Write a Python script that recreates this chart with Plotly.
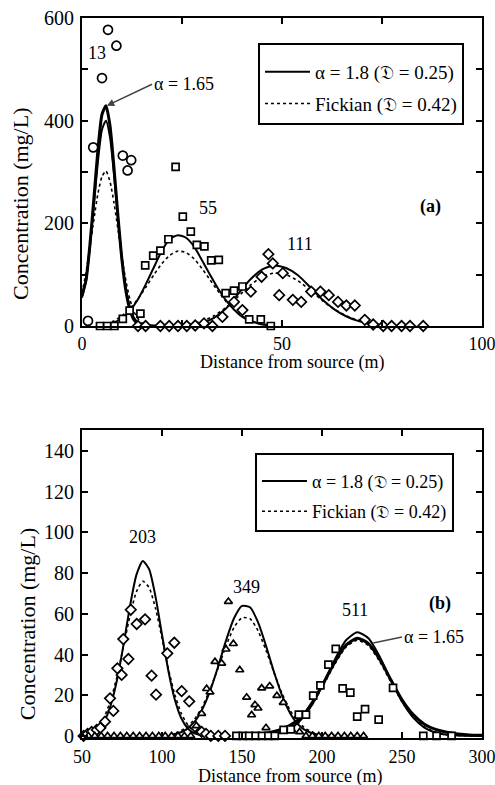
import plotly.graph_objects as go

# ---------------- Panel (a) data ----------------
a_circ_x = [1.5, 2.8, 5.0, 6.5, 8.6, 10.2, 11.4, 12.3]
a_circ_y = [10, 348, 483, 577, 546, 332, 303, 323]

a_sq_x = [4.5, 6.3, 8.1, 10.2, 11.9, 14.6, 15.8, 17.8, 19.6, 21.6, 23.4, 25.2, 27.2, 28.7, 30.6, 32.3, 34.2, 35.9, 38.0, 40.1, 41.8, 44.7, 47.2]
a_sq_y = [0, 0, 0, 14, 30, 24, 118, 137, 147, 169, 310, 213, 184, 158, 155, 128, 129, 64, 69, 77, 13, 13, 0]

a_dia_x = [14.0, 15.9, 19.6, 21.8, 24.0, 26.2, 28.3, 30.5, 32.6, 35.1, 38.0, 40.1, 42.2, 44.9, 46.6, 47.7, 49.3, 50.2, 52.7, 54.8, 57.3, 59.6, 61.7, 64.0, 66.1, 68.2, 70.7, 72.8, 75.3, 77.4, 79.9, 82.0, 85.3]
a_dia_y = [0, 0, 0, 0, 0, 0, 1, 5, 0, 18, 47, 31, 67, 96, 140, 122, 60, 103, 51, 47, 67, 67, 60, 47, 40, 40, 12, 3, 0, 0, 0, 0, 0]

t13_x = [0, 1, 2, 3, 4, 5, 6, 7, 8, 9, 10, 11, 12, 13, 14, 15, 16, 18, 20]
t13_a165 = [60, 89, 160, 251, 345, 412, 429, 390, 308, 213, 128, 67, 31, 12, 5, 2, 1, 0, 0]
t13_a18 = [55, 88, 155, 238, 322, 383, 400, 368, 295, 208, 130, 72, 36, 16, 7, 3, 1, 0, 0]
t13_fick = [64, 104, 155, 209, 259, 291, 302, 281, 240, 188, 133, 87, 51, 28, 14, 6, 3, 0, 0]

t55_x = [6, 8, 10, 12, 14, 16, 18, 20, 22, 24, 26, 28, 30, 32, 34, 36, 38, 40, 42, 44, 46, 48]
t55_a18 = [3, 7, 15, 30, 52, 82, 115, 147, 170, 177, 172, 155, 128, 100, 73, 50, 32, 18, 10, 5, 2, 1]
t55_fick = [5, 10, 20, 34, 53, 76, 100, 122, 138, 146, 143, 131, 112, 90, 68, 48, 32, 20, 11, 6, 3, 1]

t111_x = [24, 27, 30, 33, 36, 39, 42, 45, 48, 51, 54, 57, 60, 63, 66, 69, 72, 75, 78]
t111_a18 = [1, 2, 6, 16, 34, 62, 90, 110, 118, 113, 99, 76, 52, 33, 19, 10, 5, 2, 1]
t111_fick = [2, 4, 9, 20, 36, 57, 79, 96, 103, 100, 88, 70, 50, 33, 20, 11, 5.5, 2.5, 1]

# ---------------- Panel (b) data ----------------
b_dia_x = [51, 53.5, 56, 59.2, 61.5, 64.4, 67.5, 69.6, 72.1, 74.8, 75.8, 79.0, 80.5, 84.2, 89.4, 93.5, 96.3, 103.3, 107.7, 112.3, 117.0, 120.6, 124.8, 127.5, 130.5, 135.2, 139.4]
b_dia_y = [0, 1, 2, 3, 4, 7, 18.5, 12.3, 33.2, 30, 47.6, 37.8, 62, 55, 57.3, 29.6, 20.3, 40.6, 45.8, 22, 17, 4.6, 2, 1, 0, 0, 0]

b_tri_x = [54, 58, 62, 66, 70, 74, 78, 82, 86, 90, 94, 98, 102, 106, 110, 114, 118,
           121.5, 124.8, 127.9, 130.0, 133.1, 137.3, 140.0, 141.5, 144.6, 148.6, 152.9, 156.0, 158.1, 160.0, 162.3, 165.0, 167.3, 171.8, 175.8, 181.0, 186.0,
           190, 194, 198, 202, 206, 210, 214, 218, 222, 226]
b_tri_y = [0] * 17 + [5, 11, 23.2, 21.5, 36.5, 35.7, 42.6, 66, 45.3, 32.4, 19, 10.3, 15.3, 13.6, 23.5, 4, 24.5, 19.8, 16.4, 3, 2] + [0] * 10

b_sq_x = [146.5, 150.5, 154.5, 158.5, 162.5, 166.5, 170.5, 176, 180.5, 185.5, 190, 194.5, 199, 204, 208.6, 212.9, 217.7, 222, 226.9, 235.4, 244.4, 263.3, 271.6, 281]
b_sq_y = [0, 0, 0, 0, 0, 0, 0, 3, 3.2, 10.5, 10.5, 19.8, 24.8, 35, 42.8, 23.4, 21.3, 9.5, 13.2, 8, 23.6, 0, 0, 0]

t203_x = [52, 56, 60, 64, 68, 72, 76, 80, 84, 88, 92, 96, 100, 104, 108, 112, 116, 120, 124, 130]
t203_a18 = [0.35, 1.1, 3, 7.2, 15.2, 27.9, 45, 63.8, 79.1, 86, 81.8, 68.2, 49.8, 31.9, 17.9, 8.8, 3.8, 1.4, 0.5, 0.1]
t203_fick = [0.7, 1.9, 4.5, 9.5, 17.7, 29.6, 44.2, 59.1, 70.8, 76, 72.8, 62.5, 48, 33, 20.3, 11.2, 5.5, 2.4, 1, 0.2]

t349_x = [105, 110, 115, 120, 125, 130, 135, 140, 145, 150, 155, 160, 165, 170, 175, 180, 185, 190, 195, 200, 210]
t349_a18 = [0.5, 1.3, 3.1, 6.6, 12.8, 22, 33.9, 46.8, 57.8, 63.9, 63.2, 55.9, 44.3, 31.4, 19.9, 11.3, 5.7, 2.6, 1.1, 0.4, 0.05]
t349_fick = [0.8, 1.9, 4.1, 7.9, 14.1, 22.8, 33.3, 44.2, 53.3, 58.1, 57.6, 51.7, 42.1, 31.1, 20.9, 12.7, 7, 3.5, 1.6, 0.65, 0.1]

t511_x = [159, 166, 173, 180, 187, 194, 201, 208, 215, 222, 229, 236, 243, 250, 257, 264, 271, 278, 285, 292, 300]
t511_a18 = [0.14, 0.5, 1.4, 3.6, 8.1, 15.6, 26, 37.5, 47, 51, 48, 39.1, 27.6, 16.9, 9, 4.1, 1.6, 0.6, 0.2, 0.05, 0]
t511_a165 = [0.8, 1.5, 2.8, 5.2, 9.1, 16.5, 26.1, 36.4, 44.6, 48, 45.4, 37.8, 27.6, 17.8, 10.5, 5.8, 3.2, 1.8, 1.0, 0.5, 0.3]
t511_fick = [0.2, 0.6, 1.7, 4.1, 8.5, 15.6, 25.1, 35.3, 43.6, 47, 44.4, 36.7, 26.6, 16.8, 9.3, 4.5, 1.9, 0.7, 0.2, 0.05, 0]

LEG1 = "α = 1.8 (𝔇 = 0.25)"
LEG2 = "Fickian (𝔇 = 0.42)"

FONT = "Liberation Serif"
fig = go.Figure()


def curve(x, y, xa, ya, kind, name=None, legend=None, show=False, group=None):
    if kind == "a18":
        line = dict(color="black", width=2)
    elif kind == "a165":
        line = dict(color="black", width=3)
    else:
        line = dict(color="black", width=1.6, dash="3px,3px")
    fig.add_trace(go.Scatter(x=x, y=y, xaxis=xa, yaxis=ya, mode="lines",
                             line=dict(shape="spline", smoothing=0.6, **line),
                             name=name, showlegend=show,
                             legend=legend if legend else "legend",
                             legendgroup=group,
                             cliponaxis=True, hoverinfo="skip"))


def pts(x, y, xa, ya, symbol, size):
    fig.add_trace(go.Scatter(x=x, y=y, xaxis=xa, yaxis=ya, mode="markers",
                             marker=dict(symbol=symbol, size=size, color="white",
                                         line=dict(color="black", width=1.7)),
                             showlegend=False, cliponaxis=False))


# panel a curves
curve(t13_x, t13_a165, "x", "y", "a165")
curve(t13_x, t13_a18, "x", "y", "a18", LEG1, "legend", True, "g1")
curve(t13_x, t13_fick, "x", "y", "fick", LEG2, "legend", True, "g2")
curve(t55_x, t55_a18, "x", "y", "a18")
curve(t55_x, t55_fick, "x", "y", "fick")
curve(t111_x, t111_a18, "x", "y", "a18")
curve(t111_x, t111_fick, "x", "y", "fick")
pts(a_circ_x, a_circ_y, "x", "y", "circle", 9)
pts(a_sq_x, a_sq_y, "x", "y", "square", 7)
pts(a_dia_x, a_dia_y, "x", "y", "diamond", 8)

# panel b curves
curve(t203_x, t203_a18, "x2", "y2", "a18", LEG1, "legend2", True, "h1")
curve(t203_x, t203_fick, "x2", "y2", "fick", LEG2, "legend2", True, "h2")
curve(t349_x, t349_a18, "x2", "y2", "a18")
curve(t349_x, t349_fick, "x2", "y2", "fick")
curve(t511_x, t511_a165, "x2", "y2", "a165")
curve(t511_x, t511_a18, "x2", "y2", "a18")
curve(t511_x, t511_fick, "x2", "y2", "fick")
pts(b_dia_x, b_dia_y, "x2", "y2", "diamond", 8)
pts(b_tri_x, b_tri_y, "x2", "y2", "triangle-up", 7)
pts(b_sq_x, b_sq_y, "x2", "y2", "square", 7)

axis_common = dict(showline=True, linewidth=2, linecolor="black", mirror="ticks",
                   ticks="inside", ticklen=6, tickwidth=1.5, tickcolor="black",
                   showgrid=False, zeroline=False, automargin=False,
                   ticklabeloverflow="allow",
                   tickfont=dict(family=FONT, size=18, color="black"))
yfont = dict(family=FONT, size=20, color="black")

legend_common = dict(xanchor="left", yanchor="top",
                     bgcolor="white", bordercolor="black", borderwidth=2,
                     tracegroupgap=4, itemwidth=45,
                     title=dict(text=" ", font=dict(size=6)))

fig.update_layout(
    template="none",
    width=495, height=785,
    margin=dict(l=82, r=13, t=18, b=47, autoexpand=False),
    paper_bgcolor="white", plot_bgcolor="white",
    font=dict(family=FONT, size=18, color="black"),
    xaxis=dict(domain=[0, 1], range=[0, 100], anchor="y",
               tickvals=[0, 25, 50, 75, 100], ticktext=["0", "", "50", "", "100"],
               ticklabelstandoff=0, **axis_common),
    yaxis=dict(domain=[0.5722, 1], range=[0, 600], anchor="x",
               tickvals=[0, 100, 200, 300, 400, 500, 600],
               ticktext=["0", "", "200", "", "400", "", "600"],
               ticklabelstandoff=2,
               **{**axis_common, "tickfont": yfont}),
    xaxis2=dict(domain=[0, 1], range=[50, 300], anchor="y2",
                tickvals=[50, 100, 150, 200, 250, 300], ticklabelstandoff=1,
                **axis_common),
    yaxis2=dict(domain=[0, 0.4278], range=[-1, 150.3], anchor="x2",
                tickvals=[0, 20, 40, 60, 80, 100, 120, 140],
                ticklabelstandoff=2,
                **{**axis_common, "tickfont": yfont}),
    legend=dict(x=0.44, y=0.965, font=dict(family=FONT, size=19, color="black"),
                **legend_common),
    legend2=dict(x=0.4325, y=0.396, font=dict(family=FONT, size=18, color="black"),
                 **legend_common),
)

ann_font = dict(family=FONT, size=18, color="black")
anns = [
    dict(x=3.7, y=532, xref="x", yref="y", text="13", showarrow=False),
    dict(x=31.5, y=230, xref="x", yref="y", text="55", showarrow=False),
    dict(x=54.5, y=160, xref="x", yref="y", text="111", showarrow=False),
    dict(x=87, y=232, xref="x", yref="y", text="<b>(a)</b>", showarrow=False),
    dict(x=6.2, y=429, ax=17.5, ay=471, xref="x", yref="y", axref="x", ayref="y",
         text="α = 1.65", xanchor="left", showarrow=True, arrowhead=2, arrowsize=1,
         arrowwidth=1.5, standoff=0),
    dict(x=87.9, y=97.9, xref="x2", yref="y2", text="203", showarrow=False),
    dict(x=152.9, y=73.3, xref="x2", yref="y2", text="349", showarrow=False),
    dict(x=220.6, y=61.9, xref="x2", yref="y2", text="511", showarrow=False),
    dict(x=273.75, y=65.2, xref="x2", yref="y2", text="<b>(b)</b>", showarrow=False),
    dict(x=232, y=45.7, ax=250, ay=48.6, xref="x2", yref="y2", axref="x2", ayref="y2",
         text="α = 1.65", xanchor="left", showarrow=True, arrowhead=0,
         arrowwidth=1.5, standoff=0),
    dict(x=0.525, y=0.5222, xref="paper", yref="paper", text="Distance from source (m)",
         showarrow=False, xanchor="center", yanchor="middle"),
    dict(x=0.52, y=-0.0535, xref="paper", yref="paper", text="Distance from source (m)",
         showarrow=False, xanchor="center", yanchor="middle"),
    dict(x=-0.1525, y=0.7417, xref="paper", yref="paper", text="Concentration (mg/L)",
         textangle=-90, showarrow=False, xanchor="center", yanchor="middle",
         font=dict(family=FONT, size=22, color="black")),
    dict(x=-0.1375, y=0.158, xref="paper", yref="paper", text="Concentration (mg/L)",
         textangle=-90, showarrow=False, xanchor="center", yanchor="middle",
         font=dict(family=FONT, size=22, color="black")),
]
for a in anns:
    a.setdefault("font", ann_font)
fig.update_layout(annotations=anns)

fig.write_html("out.html",
               config={"displayModeBar": False},
               post_script="document.body.style.margin='0px';document.body.style.overflow='hidden';")
